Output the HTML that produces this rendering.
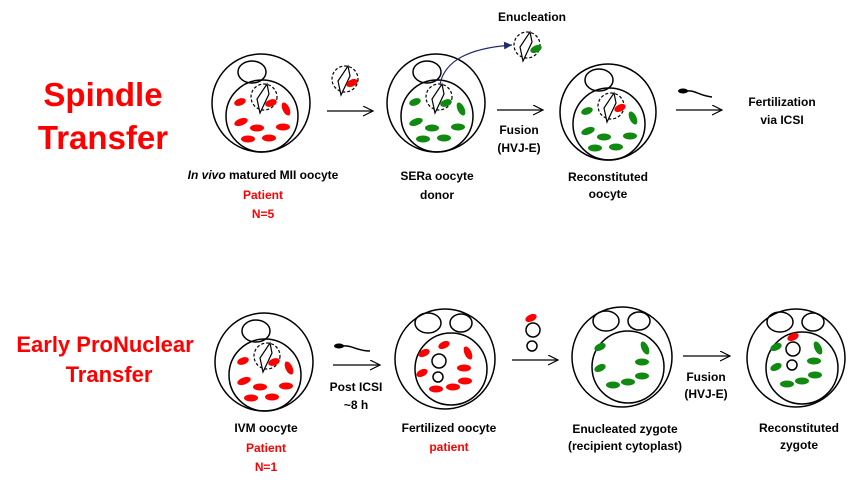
<!DOCTYPE html>
<html><head><meta charset="utf-8"><style>
html,body{margin:0;padding:0;background:#fff;}
svg{display:block;}
text{font-family:"Liberation Sans",sans-serif;font-weight:bold;}
</style></head><body>
<svg width="863" height="497" viewBox="0 0 863 497" xmlns="http://www.w3.org/2000/svg">
<defs>
<marker id="ar" markerWidth="12" markerHeight="12" refX="10" refY="5" orient="auto" markerUnits="userSpaceOnUse">
<path d="M0,0 L10,5 L0,10" fill="none" stroke="#000" stroke-width="1.2"/></marker>
<marker id="ab" markerWidth="10" markerHeight="10" refX="8" refY="4" orient="auto" markerUnits="userSpaceOnUse">
<path d="M0,0 L8,4 L0,8 z" fill="#1f2d6b"/></marker>
<g id="spin"><circle cx="0" cy="0" r="13" fill="none" stroke="#000" stroke-width="1.2" stroke-dasharray="3,2"/>
<polygon points="3,-13 5,-3 -4,16 -7,2" fill="none" stroke="#000" stroke-width="1.2"/></g>
<ellipse id="r" rx="7" ry="3.5" fill="#f00"/>
<ellipse id="g" rx="7" ry="3.5" fill="#108a10"/>
</defs>
<g stroke="#000" stroke-width="1.5" fill="none">
<!-- top cell1 -->
<circle cx="261" cy="103" r="49"/><circle cx="262" cy="116" r="36"/><ellipse cx="252" cy="72" rx="14" ry="11"/>
<!-- top cell2 -->
<circle cx="436" cy="103" r="49"/><circle cx="437" cy="116" r="36"/><ellipse cx="427" cy="72" rx="14" ry="11"/>
<!-- top cell3 -->
<circle cx="608" cy="112" r="48"/><circle cx="609" cy="124" r="36"/><ellipse cx="599" cy="80" rx="14" ry="11"/>
<!-- bottom cell1 -->
<circle cx="264" cy="362" r="49"/><circle cx="265" cy="375" r="36"/><ellipse cx="256" cy="331" rx="14" ry="11"/>
<!-- bottom cell2 -->
<circle cx="445" cy="359" r="50"/><circle cx="451" cy="369" r="36"/><ellipse cx="428" cy="323" rx="13" ry="10"/><ellipse cx="461" cy="323" rx="11" ry="9"/>
<circle cx="439" cy="361" r="7"/><circle cx="438" cy="377" r="5"/>
<!-- bottom cell3 -->
<circle cx="622" cy="357" r="50"/><circle cx="628" cy="367" r="36"/><ellipse cx="606" cy="321" rx="13" ry="10"/><ellipse cx="639" cy="321" rx="11" ry="9"/>
<!-- bottom cell4 -->
<circle cx="796" cy="358" r="49"/><circle cx="802" cy="368" r="36"/><ellipse cx="780" cy="322" rx="13" ry="10"/><ellipse cx="813" cy="322" rx="11" ry="9"/>
<circle cx="793" cy="349" r="7"/><circle cx="792" cy="365" r="5"/>
<!-- small bodies -->
<circle cx="533" cy="330" r="7"/><circle cx="532" cy="346" r="5"/>
</g>
<!-- spindles -->
<use href="#spin" x="264" y="97"/>
<use href="#spin" x="439" y="97"/>
<use href="#spin" x="611" y="106"/>
<use href="#spin" x="267" y="356"/>
<use href="#spin" x="345" y="79"/>
<use href="#spin" x="527" y="45"/>
<ellipse cx="352" cy="83" rx="6" ry="3.5" fill="#f00" transform="rotate(-25 352 83)"/>
<ellipse cx="536" cy="49" rx="6" ry="3.5" fill="#108a10" transform="rotate(-25 536 49)"/>
<ellipse cx="620" cy="108" rx="6" ry="3.5" fill="#f00" transform="rotate(-25 620 108)"/>
<!-- top cell1 red -->
<g fill="#f00">
<ellipse cx="240" cy="102" rx="6" ry="3.5" transform="rotate(-20 240 102)"/>
<ellipse cx="271" cy="103" rx="6" ry="3.5" transform="rotate(-20 271 103)"/>
<ellipse cx="286" cy="109" rx="7" ry="3.5" transform="rotate(65 286 109)"/>
<ellipse cx="241" cy="122" rx="7" ry="3.5" transform="rotate(-20 241 122)"/>
<ellipse cx="257" cy="128" rx="7" ry="3.5"/>
<ellipse cx="283" cy="127" rx="7" ry="3.5"/>
<ellipse cx="248" cy="139" rx="7" ry="3.5"/>
<ellipse cx="269" cy="138" rx="7" ry="3.5"/>
</g>
<g fill="#f00" transform="translate(3,259)">
<ellipse cx="240" cy="102" rx="6" ry="3.5" transform="rotate(-20 240 102)"/>
<ellipse cx="271" cy="103" rx="6" ry="3.5" transform="rotate(-20 271 103)"/>
<ellipse cx="286" cy="109" rx="7" ry="3.5" transform="rotate(65 286 109)"/>
<ellipse cx="241" cy="122" rx="7" ry="3.5" transform="rotate(-20 241 122)"/>
<ellipse cx="257" cy="128" rx="7" ry="3.5"/>
<ellipse cx="283" cy="127" rx="7" ry="3.5"/>
<ellipse cx="248" cy="139" rx="7" ry="3.5"/>
<ellipse cx="269" cy="138" rx="7" ry="3.5"/>
</g>
<g fill="#108a10" transform="translate(175,0)">
<ellipse cx="240" cy="102" rx="6" ry="3.5" transform="rotate(-20 240 102)"/>
<ellipse cx="271" cy="103" rx="6" ry="3.5" transform="rotate(-20 271 103)"/>
<ellipse cx="286" cy="109" rx="7" ry="3.5" transform="rotate(65 286 109)"/>
<ellipse cx="241" cy="122" rx="7" ry="3.5" transform="rotate(-20 241 122)"/>
<ellipse cx="257" cy="128" rx="7" ry="3.5"/>
<ellipse cx="283" cy="127" rx="7" ry="3.5"/>
<ellipse cx="248" cy="139" rx="7" ry="3.5"/>
<ellipse cx="269" cy="138" rx="7" ry="3.5"/>
</g>
<g fill="#108a10" transform="translate(347,9)">
<ellipse cx="240" cy="102" rx="6" ry="3.5" transform="rotate(-20 240 102)"/>
<ellipse cx="286" cy="109" rx="7" ry="3.5" transform="rotate(65 286 109)"/>
<ellipse cx="241" cy="122" rx="7" ry="3.5" transform="rotate(-20 241 122)"/>
<ellipse cx="257" cy="128" rx="7" ry="3.5"/>
<ellipse cx="283" cy="127" rx="7" ry="3.5"/>
<ellipse cx="248" cy="139" rx="7" ry="3.5"/>
<ellipse cx="269" cy="138" rx="7" ry="3.5"/>
</g>
<!-- bottom cell2 red -->
<g fill="#f00">
<ellipse cx="444" cy="345" rx="6" ry="3.5" transform="rotate(-25 444 345)"/>
<ellipse cx="424" cy="353" rx="6" ry="3.5" transform="rotate(-25 424 353)"/>
<ellipse cx="468" cy="353" rx="7" ry="3.5" transform="rotate(65 468 353)"/>
<ellipse cx="422" cy="373" rx="6" ry="3.5" transform="rotate(-25 422 373)"/>
<ellipse cx="464" cy="368" rx="7" ry="3.5"/>
<ellipse cx="465" cy="381" rx="7" ry="3.5"/>
<ellipse cx="436" cy="389" rx="7" ry="3.5"/>
<ellipse cx="453" cy="387" rx="7" ry="3.5"/>
</g>
<g fill="#108a10">
<ellipse cx="600" cy="347" rx="6" ry="3.5" transform="rotate(-25 600 347)"/>
<ellipse cx="645" cy="348" rx="7" ry="3.5" transform="rotate(65 645 348)"/>
<ellipse cx="600" cy="368" rx="6" ry="3.5" transform="rotate(-25 600 368)"/>
<ellipse cx="642" cy="362" rx="7" ry="3.5"/>
<ellipse cx="642" cy="376" rx="7" ry="3.5"/>
<ellipse cx="613" cy="385" rx="7" ry="3.5"/>
<ellipse cx="628" cy="382" rx="7" ry="3.5"/>
<ellipse cx="776" cy="347" rx="6" ry="3.5" transform="rotate(-25 776 347)"/>
<ellipse cx="818" cy="348" rx="7" ry="3.5" transform="rotate(65 818 348)"/>
<ellipse cx="776" cy="367" rx="6" ry="3.5" transform="rotate(-25 776 367)"/>
<ellipse cx="814" cy="361" rx="7" ry="3.5"/>
<ellipse cx="815" cy="375" rx="7" ry="3.5"/>
<ellipse cx="787" cy="384" rx="7" ry="3.5"/>
<ellipse cx="802" cy="381" rx="7" ry="3.5"/>
</g>
<ellipse cx="793" cy="337" rx="6" ry="3.5" fill="#f00" transform="rotate(-25 793 337)"/>
<ellipse cx="531" cy="318" rx="6" ry="3.5" fill="#f00" transform="rotate(-25 531 318)"/>
<!-- arrows -->
<g stroke="#000" stroke-width="1.3" fill="none">
<line x1="327" y1="111" x2="373" y2="111" marker-end="url(#ar)"/>
<line x1="497" y1="110" x2="543" y2="110" marker-end="url(#ar)"/>
<line x1="676" y1="110" x2="722" y2="110" marker-end="url(#ar)"/>
<line x1="333" y1="365" x2="380" y2="365" marker-end="url(#ar)"/>
<line x1="512" y1="360" x2="558" y2="360" marker-end="url(#ar)"/>
<line x1="683" y1="356" x2="730" y2="356" marker-end="url(#ar)"/>
</g>
<path d="M440,84 C445,60 470,48 512,45" stroke="#1f2d6b" stroke-width="1.2" fill="none" marker-end="url(#ab)"/>
<!-- sperm -->
<ellipse cx="683" cy="91" rx="5" ry="2.5" fill="#000"/>
<path d="M687,91 C695,90 700,96 712,97" stroke="#000" stroke-width="1.5" fill="none"/>
<ellipse cx="339" cy="346" rx="5" ry="2.5" fill="#000"/>
<path d="M343,346 C352,345 357,351 370,351" stroke="#000" stroke-width="1.5" fill="none"/>
<!-- titles -->
<text x="103" y="106" font-size="33" fill="#f00" text-anchor="middle">Spindle</text>
<text x="103" y="149" font-size="33" fill="#f00" text-anchor="middle">Transfer</text>
<text x="105" y="352" font-size="22" fill="#f00" text-anchor="middle">Early ProNuclear</text>
<text x="109" y="382" font-size="22" fill="#f00" text-anchor="middle">Transfer</text>
<g font-size="12" text-anchor="middle">
<text x="263" y="179"><tspan font-style="italic">In vivo</tspan> matured MII oocyte</text>
<text x="263" y="199" fill="#f00">Patient</text>
<text x="263" y="218" fill="#f00">N=5</text>
<text x="437" y="180">SERa oocyte</text>
<text x="437" y="199">donor</text>
<text x="608" y="181">Reconstituted</text>
<text x="608" y="198">oocyte</text>
<text x="532" y="21">Enucleation</text>
<text x="519" y="134">Fusion</text>
<text x="519" y="152">(HVJ-E)</text>
<text x="782" y="106">Fertilization</text>
<text x="782" y="124">via ICSI</text>
<text x="266" y="432">IVM oocyte</text>
<text x="266" y="452" fill="#f00">Patient</text>
<text x="266" y="471" fill="#f00">N=1</text>
<text x="356" y="391">Post ICSI</text>
<text x="356" y="409">~8 h</text>
<text x="449" y="432">Fertilized oocyte</text>
<text x="449" y="451" fill="#f00">patient</text>
<text x="625" y="433">Enucleated zygote</text>
<text x="625" y="450">(recipient cytoplast)</text>
<text x="799" y="432">Reconstituted</text>
<text x="799" y="449">zygote</text>
<text x="706" y="381">Fusion</text>
<text x="706" y="398">(HVJ-E)</text>
</g>
</svg>
</body></html>
